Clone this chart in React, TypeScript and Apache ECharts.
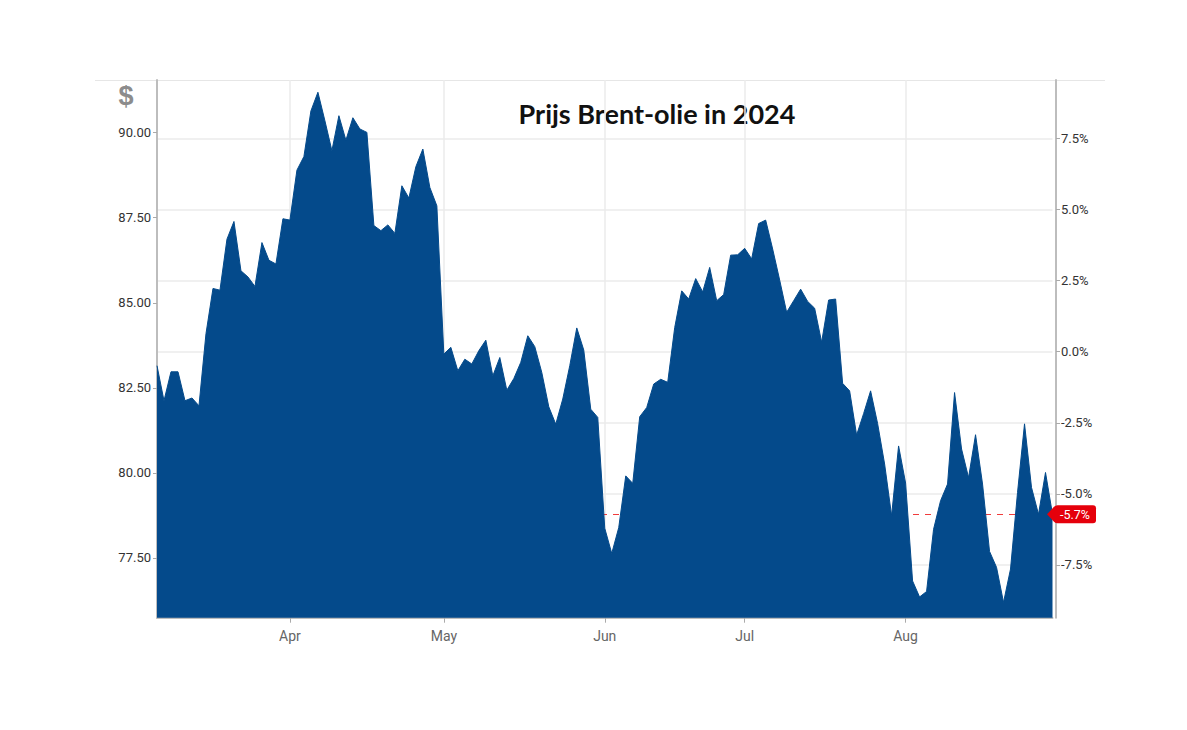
import React, { useEffect, useRef } from 'react';
import * as echarts from 'echarts';

const TITLE = 'Prijs Brent-olie in 2024';
const CURRENCY = '$';
const START_DATE = '2024-03-04';
const END_DATE = '2024-08-30';
const CLOSED_DAYS = ['2024-03-29'];
const MONTH_NAMES = ['Jan', 'Feb', 'Mar', 'Apr', 'May', 'Jun', 'Jul', 'Aug', 'Sep', 'Oct', 'Nov', 'Dec'];

const prices = [
  83.15, 82.12, 82.97, 82.97, 82.12, 82.2, 81.97, 84.09, 85.42, 85.37,
  86.87, 87.39, 85.94, 85.76, 85.48, 86.77, 86.25, 86.14, 87.47, 87.43,
  88.9, 89.3, 90.64, 91.19, 90.35, 89.47, 90.5, 89.78, 90.44, 90.11,
  90.01, 87.27, 87.12, 87.29, 87.04, 88.44, 88.08, 89.0, 89.52, 88.39,
  87.85, 83.49, 83.69, 83.0, 83.34, 83.2, 83.59, 83.9, 82.85, 83.39,
  82.43, 82.77, 83.25, 84.03, 83.71, 82.95, 81.94, 81.43, 82.17, 83.15,
  84.26, 83.61, 81.87, 81.63, 78.37, 77.63, 78.39, 79.91, 79.69, 81.65,
  81.92, 82.61, 82.75, 82.66, 84.27, 85.35, 85.11, 85.71, 85.32, 86.04,
  85.06, 85.24, 86.4, 86.41, 86.6, 86.29, 87.33, 87.43, 86.58, 85.67,
  84.72, 85.06, 85.4, 85.04, 84.84, 83.84, 85.08, 85.11, 82.63, 82.41,
  81.11, 81.74, 82.41, 81.45, 80.26, 78.74, 80.79, 79.7, 76.82, 76.35,
  76.51, 78.34, 79.18, 79.67, 82.36, 80.7, 79.86, 81.12, 79.67, 77.69,
  77.22, 76.19, 77.17, 79.42, 81.44, 79.57, 78.78, 80.01, 78.78,
];

const BASE_PRICE = 83.56;
const PRICE_MIN = 75.74;
const PRICE_MAX = 91.55;
const PRICE_TICKS = [77.5, 80, 82.5, 85, 87.5, 90];
const PCT_TICKS = [-7.5, -5, -2.5, 0, 2.5, 5, 7.5];

function tradingDays(): string[] {
  const out: string[] = [];
  const d = new Date(START_DATE + 'T00:00:00Z');
  const end = new Date(END_DATE + 'T00:00:00Z');
  while (d.getTime() <= end.getTime()) {
    const wd = d.getUTCDay();
    const s = d.toISOString().slice(0, 10);
    if (wd !== 0 && wd !== 6 && CLOSED_DAYS.indexOf(s) < 0) out.push(s);
    d.setUTCDate(d.getUTCDate() + 1);
  }
  return out;
}

export default function App() {
  const ref = useRef<HTMLDivElement>(null);
  useEffect(() => {
    const chart = echarts.init(ref.current!, null, { renderer: 'svg' });
    const dates = tradingDays();
    const isMonthStart = (i: number) => i > 0 && !!dates[i] && !!dates[i - 1] && dates[i].slice(5, 7) !== dates[i - 1].slice(5, 7);
    const toPct = (p: number) => (p / BASE_PRICE - 1) * 100;
    const lastIdx = prices.length - 1;
    const last = prices[lastIdx];
    const tagText = toPct(last).toFixed(1) + '%';
    const axisFont = 'Roboto, "Liberation Sans", Arial, sans-serif';
    const axisLineColor = '#bdbdbd';
    const gridColor = '#ebebeb';

    chart.setOption({
      animation: false,
      backgroundColor: '#ffffff',
      grid: { left: 157, top: 80, right: 134.5, bottom: 112.3, containLabel: false },
      xAxis: {
        type: 'category',
        data: dates.slice(0, prices.length),
        boundaryGap: false,
        axisLine: { show: true, onZero: false, lineStyle: { color: axisLineColor, width: 2 } },
        axisTick: {
          show: true,
          interval: (i: number) => isMonthStart(i),
          length: 5,
          lineStyle: { color: '#aaaaaa' },
        },
        axisLabel: {
          interval: (i: number) => isMonthStart(i),
          formatter: (v: string) => MONTH_NAMES[parseInt(v.slice(5, 7), 10) - 1],
          color: '#666666',
          fontSize: 14,
          fontFamily: axisFont,
          margin: 11,
        },
        splitLine: {
          show: true,
          interval: (i: number) => isMonthStart(i),
          lineStyle: { color: gridColor, width: 1.5 },
        },
      },
      yAxis: [
        {
          type: 'value',
          position: 'left',
          min: PRICE_MIN,
          max: PRICE_MAX,
          axisLine: { show: true, onZero: false, lineStyle: { color: axisLineColor, width: 2 } },
          axisTick: { show: true, length: 4, customValues: PRICE_TICKS, lineStyle: { color: '#aaaaaa' } },
          axisLabel: {
            customValues: PRICE_TICKS,
            formatter: (v: number) => v.toFixed(2),
            color: '#333333',
            fontSize: 13,
            fontFamily: axisFont,
            margin: 6,
          },
          splitLine: { show: false },
        },
        {
          type: 'value',
          position: 'right',
          offset: 3.5,
          min: toPct(PRICE_MIN),
          max: toPct(PRICE_MAX),
          axisLine: { show: true, onZero: false, lineStyle: { color: axisLineColor, width: 2 } },
          axisTick: { show: true, length: 4, customValues: PCT_TICKS, lineStyle: { color: '#aaaaaa' } },
          axisLabel: {
            customValues: PCT_TICKS,
            formatter: (v: number) => v.toFixed(1) + '%',
            color: '#333333',
            fontSize: 13,
            fontFamily: axisFont,
            margin: 5,
          },
          splitLine: { show: true, lineStyle: { color: gridColor, width: 1.5 } },
        },
      ],
      series: [
        {
          type: 'line',
          name: 'ref',
          yAxisIndex: 0,
          data: prices.map(() => null),
          symbol: 'none',
          silent: true,
          z: 1,
          lineStyle: { opacity: 0 },
          markLine: {
            silent: true,
            z: 1,
            symbol: ['none', 'none'],
            label: { show: false },
            lineStyle: { color: '#f03c3c', type: [6, 6], width: 1.2 },
            data: [{ yAxis: last }],
          },
        },
        {
          type: 'line',
          name: 'Brent',
          yAxisIndex: 0,
          data: prices,
          symbol: 'none',
          z: 3,
          lineStyle: { color: '#044a8b', width: 1 },
          areaStyle: { color: '#044a8b', opacity: 1, origin: 'start' },
          markPoint: {
            silent: true,
            z: 10,
            symbol: 'path://M0,9 L7,1.5 Q8.5,0 10.5,0 L46,0 Q49,0 49,3 L49,15 Q49,18 46,18 L10.5,18 Q8.5,18 7,16.5 Z',
            symbolSize: [49, 18],
            symbolKeepAspect: false,
            symbolOffset: [19, 0],
            itemStyle: { color: '#e5000b' },
            label: {
              show: true,
              position: 'inside',
              offset: [3.5, 0],
              color: '#ffffff',
              fontSize: 12.5,
              fontFamily: axisFont,
              formatter: tagText,
            },
            data: [{ coord: [lastIdx, last], value: tagText }],
          },
        },
      ],
      graphic: [
        {
          type: 'line',
          shape: { x1: 95, y1: 80.5, x2: 1105, y2: 80.5 },
          style: { stroke: '#e6e6e6', lineWidth: 1 },
          silent: true,
        },
        {
          type: 'text',
          x: 126,
          y: 96,
          style: {
            text: CURRENCY,
            fill: '#8c8c8c',
            font: 'bold 27px "Liberation Sans", Arial, sans-serif',
            textAlign: 'center',
            textVerticalAlign: 'middle',
          },
          silent: true,
        },
        {
          type: 'text',
          x: 657,
          y: 113,
          style: {
            text: TITLE,
            fill: '#111111',
            font: 'bold 27px Lato, "Liberation Sans", sans-serif',
            textAlign: 'center',
            textVerticalAlign: 'middle',
          },
          silent: true,
        },
      ],
    });
    return () => chart.dispose();
  }, []);
  return <div ref={ref} style={{ position: 'absolute', left: 0, top: 0, width: 1187, height: 730 }} />;
}
